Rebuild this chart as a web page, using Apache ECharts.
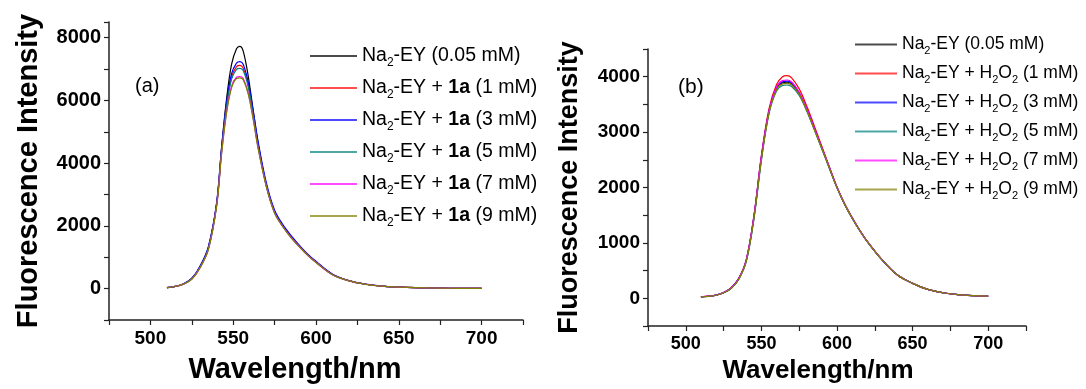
<!DOCTYPE html>
<html>
<head>
<meta charset="utf-8">
<script src="https://cdn.jsdelivr.net/npm/echarts@6/dist/echarts.min.js"></script>
<style>
html,body{margin:0;padding:0;background:#fff;}
#chart{width:1086px;height:389px;}
</style>
</head>
<body>
<div id="chart"></div>
<script>
// ---------- Data ----------
const wlA = [510,515,520,525,530,535,540,543,546,549,552,554,556,559,562,565,570,575,580,585,590,595,600,610,620,630,640,650,660,670,680,690,700];
const a0 = [30,70,150,320,700,1300,2700,4500,6050,7150,7650,7726,7580,6800,5700,4650,3300,2450,2000,1650,1350,1080,850,450,250,140,80,50,30,20,12,8,5];
const a1 = [30,70,150,320,700,1290,2700,4450,5850,6750,7080,7118,7030,6500,5600,4600,3290,2440,1990,1640,1345,1075,845,448,248,140,80,50,30,20,12,8,5];
const a3 = [30,72,155,330,720,1340,2750,4500,5950,6850,7190,7234,7150,6600,5700,4700,3380,2500,2040,1690,1380,1100,870,460,255,145,82,52,31,20,12,8,5];
const a5 = [30,70,150,315,690,1280,2680,4400,5800,6680,6990,7024,6950,6450,5550,4550,3280,2430,1980,1635,1340,1070,840,445,248,140,80,50,30,20,12,8,5];
const a7 = [30,68,145,305,670,1250,2650,4330,5650,6450,6740,6762,6700,6250,5450,4500,3270,2420,1980,1630,1335,1065,838,442,246,139,79,50,30,20,12,8,5];
const a9 = [30,68,145,300,660,1240,2620,4300,5600,6400,6700,6720,6660,6220,5420,4480,3250,2400,1970,1620,1330,1060,835,440,245,138,79,50,30,20,12,8,5];

const wlB = [510,515,520,525,530,535,540,545,550,555,560,564,567,570,575,580,585,590,595,600,605,610,615,620,630,640,650,660,670,680,690,700];
const b0 = [25,37,56,100,182,350,680,1450,2530,3360,3780,3890,3900,3870,3690,3400,3060,2710,2350,2000,1700,1450,1225,1025,688,420,270,160,100,65,48,40];
const b1 = [25,38,58,105,190,360,700,1480,2580,3420,3860,4000,4018,3980,3780,3470,3110,2740,2370,2010,1710,1460,1230,1030,690,420,270,160,100,65,48,40];
const b3 = [25,37,57,102,186,355,690,1465,2550,3370,3800,3910,3920,3890,3710,3420,3070,2715,2355,2002,1702,1452,1226,1026,688,420,270,160,100,65,48,40];
const b5 = [25,36,55,98,178,340,665,1420,2490,3330,3740,3840,3850,3820,3660,3380,3040,2695,2340,1995,1698,1448,1224,1024,687,419,269,160,100,65,48,40];
const b7 = [25,38,58,104,188,358,695,1475,2565,3380,3810,3930,3940,3905,3720,3425,3075,2720,2360,2005,1705,1454,1227,1027,689,420,270,160,100,65,48,40];
const b9 = [25,36,55,99,180,345,670,1430,2500,3340,3760,3870,3880,3850,3680,3390,3045,2700,2345,1998,1700,1450,1225,1025,688,420,270,160,100,65,48,40];

const namesA = ['Na2-EY (0.05 mM)','Na2-EY + 1a (1 mM)','Na2-EY + 1a (3 mM)','Na2-EY + 1a (5 mM)','Na2-EY + 1a (7 mM)','Na2-EY + 1a (9 mM)'];
const richA  = ['Na{s|2}-EY (0.05 mM)','Na{s|2}-EY + {b|1a} (1 mM)','Na{s|2}-EY + {b|1a} (3 mM)','Na{s|2}-EY + {b|1a} (5 mM)','Na{s|2}-EY + {b|1a} (7 mM)','Na{s|2}-EY + {b|1a} (9 mM)'];
const namesB = ['Na2-EY (0.05 mM) ','Na2-EY + H2O2 (1 mM)','Na2-EY + H2O2 (3 mM)','Na2-EY + H2O2 (5 mM)','Na2-EY + H2O2 (7 mM)','Na2-EY + H2O2 (9 mM)'];
const richB  = ['Na{s|2}-EY (0.05 mM)','Na{s|2}-EY + H{s|2}O{s|2} (1 mM)','Na{s|2}-EY + H{s|2}O{s|2} (3 mM)','Na{s|2}-EY + H{s|2}O{s|2} (5 mM)','Na{s|2}-EY + H{s|2}O{s|2} (7 mM)','Na{s|2}-EY + H{s|2}O{s|2} (9 mM)'];

const colors = ['#000000','#ff0000','#0000ff','#008080','#ff00ff','#808000'];
const seriesA = [a0,a1,a3,a5,a7,a9];
const seriesB = [b0,b1,b3,b5,b7,b9];

// axis ranges, tick steps and label steps
const xRange = [475,725], xTickStep = 25, xLabelStep = 50;
const yRangeA = [-1000,8500], yTickStepA = 1000, yLabelStepA = 2000;
const yRangeB = [-500,4500], yTickStepB = 500, yLabelStepB = 1000;

// ---------- Chart ----------
const FF = 'Liberation Sans';
const richMap = {};
namesA.forEach((n,i)=>richMap[n]=richA[i]);
namesB.forEach((n,i)=>richMap[n]=richB[i]);

function fmt(step){
  return (v)=> (Math.abs(v % step) < 1e-6 && v >= 0) ? String(v) : '';
}

function xAxis(gi, fs, nfs, pad, gap){
  return {
    type:'value', gridIndex:gi, min:xRange[0], max:xRange[1], interval:xTickStep,
    splitLine:{show:false},
    axisLine:{onZero:false,lineStyle:{color:'#222',width:1.5}},
    axisTick:{inside:false,length:5,lineStyle:{color:'#222',width:1.2}},
    axisLabel:{formatter:fmt(xLabelStep),showMinLabel:true,showMaxLabel:true,hideOverlap:false,margin:9,fontFamily:FF,fontWeight:'bold',fontSize:fs,color:'#000'},
    name:'Wavelength/nm', nameLocation:'middle', nameGap:gap,
    nameTextStyle:{fontFamily:FF,fontWeight:'bold',fontSize:nfs,color:'#000',padding:[0,pad,0,0]}
  };
}
function yAxis(gi, range, tstep, lstep, fs, nfs, gap){
  return {
    type:'value', gridIndex:gi, min:range[0], max:range[1], interval:tstep,
    splitLine:{show:false},
    axisLine:{show:true,onZero:false,lineStyle:{color:'#222',width:1.5}},
    axisTick:{show:true,inside:false,length:5,lineStyle:{color:'#222',width:1.2}},
    axisLabel:{formatter:fmt(lstep),hideOverlap:false,margin:8,fontFamily:FF,fontWeight:'bold',fontSize:fs,color:'#000'},
    name:'Fluorescence Intensity', nameLocation:'middle', nameGap:gap,
    nameTextStyle:{fontFamily:FF,fontWeight:'bold',fontSize:nfs,color:'#000'}
  };
}

const series = [];
seriesA.forEach((arr,i)=>{
  series.push({type:'line', name:namesA[i], xAxisIndex:0, yAxisIndex:0,
    data: wlA.map((w,j)=>[w,arr[j]]), symbol:'none', smooth:0.35,
    color:colors[i], lineStyle:{width:1.2,color:colors[i]}, z:2+i});
});
seriesB.forEach((arr,i)=>{
  series.push({type:'line', name:namesB[i], xAxisIndex:1, yAxisIndex:1,
    data: wlB.map((w,j)=>[w,arr[j]]), symbol:'none', smooth:0.35,
    color:colors[i], lineStyle:{width:1.2,color:colors[i]}, z:2+i});
});

function legend(names, left, top, fs, gap, iw){
  const sub = Math.round(fs*0.6);
  return {
    data:names.map(n=>({name:n, icon:'rect', itemStyle:{opacity:0.7}})),
    orient:'vertical', left:left, top:top, itemGap:gap,
    itemWidth:iw, itemHeight:2, selectedMode:false,
    formatter:(n)=>richMap[n],
    textStyle:{fontFamily:FF,fontSize:fs,color:'#000',lineHeight:fs,
      rich:{
        s:{fontFamily:FF,fontSize:sub,lineHeight:sub,padding:[Math.round(fs*0.7),0,0,0],color:'#000'},
        b:{fontFamily:FF,fontSize:fs,fontWeight:'bold',lineHeight:fs,color:'#000'}
      }}
  };
}

const chart = echarts.init(document.getElementById('chart'), null, {renderer:'canvas'});
chart.setOption({
  backgroundColor:'#fff',
  animation:false,
  grid:[
    {left:109, top:22, right:563, bottom:64},
    {left:648, top:49, right:60, bottom:62}
  ],
  xAxis:[xAxis(0,19,29,42,35), xAxis(1,18,26,38,32)],
  yAxis:[yAxis(0,yRangeA,yTickStepA,yLabelStepA,20,29,66), yAxis(1,yRangeB,yTickStepB,yLabelStepB,19,27,65)],
  legend:[legend(namesA,305,38,19.5,6,47), legend(namesB,850,28,17.5,6,42)],
  graphic:[
    {type:'text', left:135, top:76, style:{text:'(a)', font:'20px "Liberation Sans"', fill:'#000'}},
    {type:'text', left:678, top:77, style:{text:'(b)', font:'21px "Liberation Sans"', fill:'#000'}}
  ],
  series:series
});
</script>
</body>
</html>
